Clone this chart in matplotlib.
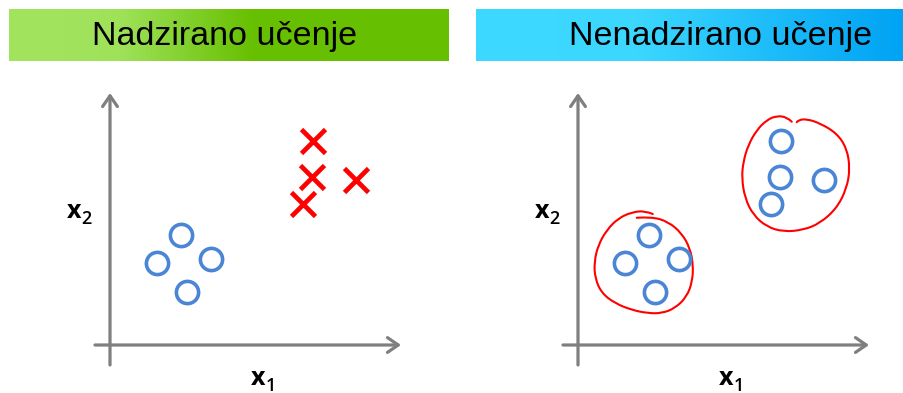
import numpy as np
import matplotlib
matplotlib.use("Agg")
import matplotlib.pyplot as plt
from matplotlib.path import Path
from matplotlib.patches import PathPatch
from matplotlib.colors import LinearSegmentedColormap
from matplotlib.transforms import offset_copy

# ---------------- data ----------------
titles = ["Nadzirano učenje", "Nenadzirano učenje"]
x_label = ("x", "1")
y_label = ("x", "2")

# group A (circles)
group_a_x = [2.84, 1.88, 4.04, 3.08]
group_a_y = [4.40, 3.28, 3.44, 2.12]
# group B (crosses in supervised panel, circles in unsupervised)
group_b_x = [8.12, 8.08, 9.84, 7.72]
group_b_y = [8.16, 6.72, 6.60, 5.64]

# hand-drawn cluster outlines (unsupervised panel)
loop1_x = [2.35, 2.95, 3.61, 4.15, 4.48, 4.61, 4.57, 4.35, 3.88, 3.35, 2.81,
           2.15, 1.48, 0.95, 0.68, 0.65, 0.81, 1.15, 1.61, 2.15, 2.68, 2.99]
loop1_y = [5.09, 5.13, 4.93, 4.47, 3.87, 3.20, 2.53, 1.93, 1.47, 1.27, 1.27,
           1.40, 1.67, 2.07, 2.67, 3.33, 4.00, 4.60, 5.07, 5.31, 5.37, 5.24]
loop2_x = [8.55, 8.37, 7.95, 7.55, 7.15, 6.81, 6.61, 6.55, 6.68, 7.01, 7.55,
           8.21, 9.01, 9.68, 10.35, 10.75, 10.88, 10.75, 10.35, 9.68, 9.15, 8.81, 8.75]
loop2_y = [8.93, 9.11, 9.17, 9.00, 8.60, 8.00, 7.33, 6.67, 5.87, 5.20, 4.73,
           4.53, 4.60, 4.87, 5.47, 6.27, 7.07, 7.87, 8.47, 8.87, 9.04, 9.00, 8.91]

# ---------------- style ----------------
GRAY = "#7f7f7f"
BLUE = "#4a86d5"
RED = "#ff0000"
W, H = 904, 393

fig = plt.figure(figsize=(W / 100, H / 100), dpi=100)
fig.patch.set_facecolor("white")


def fig_rect(x0, y0, x1, y1):
    return [x0 / W, (H - y1) / H, (x1 - x0) / W, (y1 - y0) / H]


def title_bar(rect, stops, text, text_cx):
    ax = fig.add_axes(fig_rect(*rect))
    cmap = LinearSegmentedColormap.from_list("g", stops)
    grad = np.linspace(0, 1, 512)[None, :]
    ax.imshow(grad, aspect="auto", cmap=cmap, extent=[rect[0], rect[2], rect[3], rect[1]])
    ax.set_xlim(rect[0], rect[2])
    ax.set_ylim(rect[3], rect[1])
    ax.axis("off")
    ax.text(text_cx, (rect[1] + rect[3]) / 2 + 1, text, ha="center", va="center",
            fontsize=24.5, family="Liberation Sans", color="black")


title_bar((9, 9, 449, 61),
          [(0.0, "#a3e45f"), (0.25, "#9fe25a"), (0.55, "#68c002"), (1.0, "#66bf00")],
          titles[0], 225)
title_bar((476, 9, 904, 61),
          [(0.0, "#3dd9ff"), (0.38, "#3bd7ff"), (1.0, "#00a2f4")],
          titles[1], 721)


def sub_label(ax, x, y, parts):
    main, sub = parts
    ax.text(x, y, main, ha="right", va="baseline", fontsize=18, family="Open Sans",
            fontweight="bold", clip_on=False)
    tr = offset_copy(ax.transData, fig=fig, x=0.5, y=-4.0, units="points")
    ax.text(x, y, sub, ha="left", va="baseline", fontsize=13, family="Open Sans",
            fontweight="semibold", transform=tr, clip_on=False)


def panel(x0):
    ax = fig.add_axes(fig_rect(x0, 85, x0 + 340, 375))
    ax.set_xlim(-1.2, 12.4)
    ax.set_ylim(-1.2, 10.4)
    ax.axis("off")
    arrow = dict(arrowstyle="->,head_length=0.55,head_width=0.38", color=GRAY, lw=2.3,
                 shrinkA=0, shrinkB=0, mutation_scale=14)
    ax.annotate("", xy=(11.64, 0), xytext=(-0.6, 0), arrowprops=arrow)
    ax.annotate("", xy=(0, 10.08), xytext=(0, -0.8), arrowprops=arrow)
    sub_label(ax, 6.2, -1.6, x_label)
    sub_label(ax, -1.16, 5.08, y_label)
    return ax


def smooth_path(xs, ys):
    pts = np.column_stack([xs, ys])
    verts = [pts[0]]
    codes = [Path.MOVETO]
    for i in range(1, len(pts) - 1):
        mid = (pts[i] + pts[i + 1]) / 2
        verts += [pts[i], mid if i < len(pts) - 2 else pts[i + 1]]
        codes += [Path.CURVE3, Path.CURVE3]
    return Path(verts, codes)


circle_kw = dict(ls="none", marker="o", ms=16, mfc="none", mec=BLUE, mew=2.6)

# supervised
ax1 = panel(80)
ax1.plot(group_a_x, group_a_y, **circle_kw)
ax1.plot(group_b_x, group_b_y, ls="none", marker="x", ms=17, mec=RED, mew=3.4)

# unsupervised
ax2 = panel(548)
ax2.plot(group_a_x, group_a_y, **circle_kw)
ax2.plot(group_b_x, group_b_y, **circle_kw)
for lx, ly in ((loop1_x, loop1_y), (loop2_x, loop2_y)):
    ax2.add_patch(PathPatch(smooth_path(lx, ly), fill=False, ec=RED, lw=1.5,
                            capstyle="round", joinstyle="round"))

fig.savefig("out.png", dpi=100, facecolor="white")
